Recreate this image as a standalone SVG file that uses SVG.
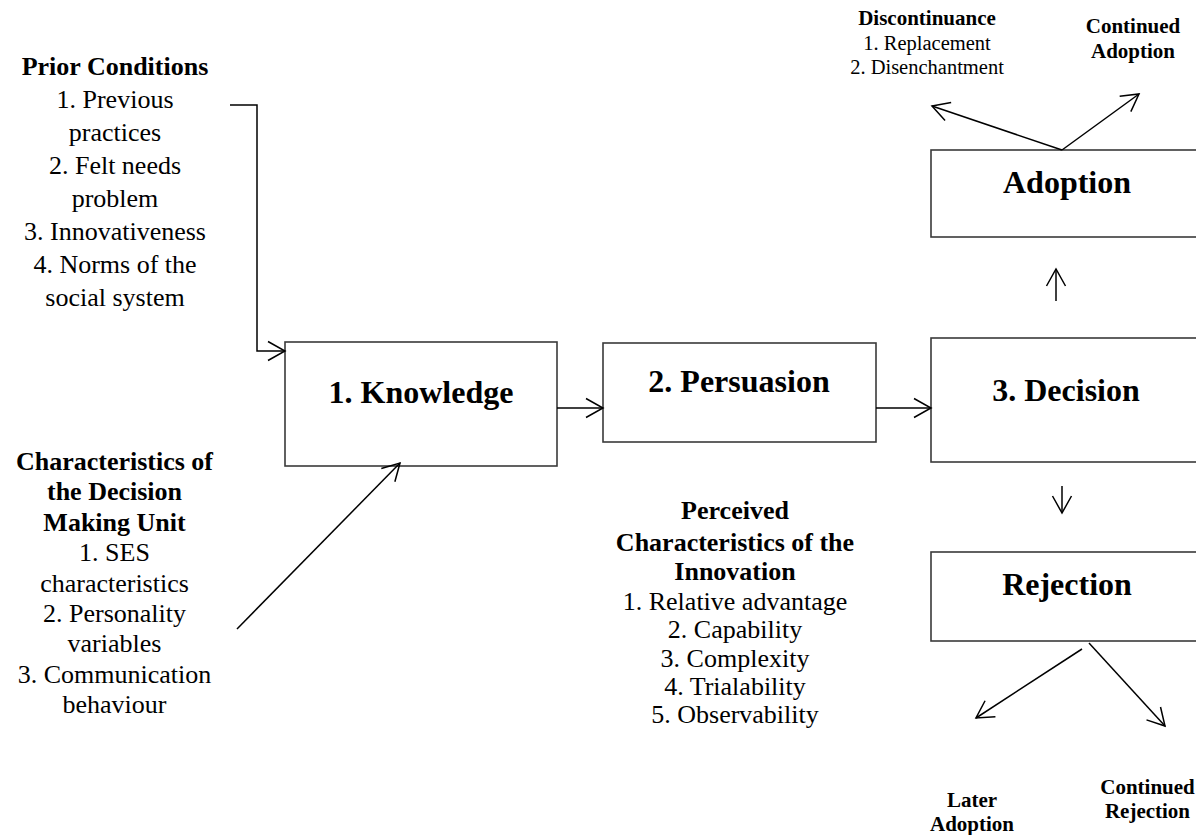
<svg xmlns="http://www.w3.org/2000/svg" width="1196" height="835" viewBox="0 0 1196 835">
<style>
.box{fill:#fff;stroke:#3a3a3a;stroke-width:1.6}
.lbl{font-family:"Liberation Serif","Times New Roman",serif;font-weight:bold;font-size:32px;text-anchor:middle;fill:#000}
.t{font-family:"Liberation Serif","Times New Roman",serif;font-size:26px;text-anchor:middle;fill:#000}
.b{font-weight:bold}
.s{font-family:"Liberation Serif","Times New Roman",serif;font-size:20.5px;text-anchor:middle;fill:#000}
.sb{font-family:"Liberation Serif","Times New Roman",serif;font-size:21px;font-weight:bold;text-anchor:middle;fill:#000}
.c{fill:none;stroke:#000;stroke-width:1.5;marker-end:url(#ah)}
</style>
<defs>
<marker id="ah" markerUnits="userSpaceOnUse" markerWidth="22" markerHeight="22" viewBox="0 0 22 22" refX="18" refY="11" orient="auto">
<path d="M1,1.5 L18,11 L1,20.5" fill="none" stroke="#000" stroke-width="1.5"/>
</marker>
</defs>
<rect width="1196" height="835" fill="#fff"/>

<g id="knowledge">
<rect class="box" x="285" y="342" width="272" height="124"/>
<text class="lbl" x="421" y="403">1. Knowledge</text>
</g>
<g id="persuasion">
<rect class="box" x="603" y="343" width="273" height="99"/>
<text class="lbl" x="739" y="392">2. Persuasion</text>
</g>
<g id="decision">
<rect class="box" x="931" y="338" width="280" height="124"/>
<text class="lbl" x="1066" y="401">3. Decision</text>
</g>
<g id="adoption">
<rect class="box" x="931" y="150" width="280" height="87"/>
<text class="lbl" x="1067" y="193">Adoption</text>
</g>
<g id="rejection">
<rect class="box" x="931" y="552" width="280" height="89"/>
<text class="lbl" x="1067" y="595">Rejection</text>
</g>

<g id="prior-conditions">
<text class="t b" x="115" y="75">Prior Conditions</text>
<text class="t" x="115" y="108">1. Previous</text>
<text class="t" x="115" y="141">practices</text>
<text class="t" x="115" y="174">2. Felt needs</text>
<text class="t" x="115" y="207">problem</text>
<text class="t" x="115" y="240">3. Innovativeness</text>
<text class="t" x="115" y="273">4. Norms of the</text>
<text class="t" x="115" y="306">social system</text>
</g>

<g id="decision-unit">
<text class="t b" x="114.5" y="470">Characteristics of</text>
<text class="t b" x="114.5" y="500">the Decision</text>
<text class="t b" x="114.5" y="531">Making Unit</text>
<text class="t" x="114.5" y="561">1. SES</text>
<text class="t" x="114.5" y="592">characteristics</text>
<text class="t" x="114.5" y="622">2. Personality</text>
<text class="t" x="114.5" y="652">variables</text>
<text class="t" x="114.5" y="683">3. Communication</text>
<text class="t" x="114.5" y="713">behaviour</text>
</g>

<g id="perceived">
<text class="t b" x="735" y="519">Perceived</text>
<text class="t b" x="735" y="551">Characteristics of the</text>
<text class="t b" x="735" y="580">Innovation</text>
<text class="t" x="735" y="610">1. Relative advantage</text>
<text class="t" x="735" y="638">2. Capability</text>
<text class="t" x="735" y="667">3. Complexity</text>
<text class="t" x="735" y="695">4. Trialability</text>
<text class="t" x="735" y="723">5. Observability</text>
</g>

<g id="discontinuance">
<text class="sb" x="927" y="25">Discontinuance</text>
<text class="s" x="927" y="50">1. Replacement</text>
<text class="s" x="927" y="74">2. Disenchantment</text>
</g>
<g id="continued-adoption">
<text class="sb" x="1133" y="33">Continued</text>
<text class="sb" x="1133" y="58">Adoption</text>
</g>
<g id="later-adoption">
<text class="sb" x="972" y="807">Later</text>
<text class="sb" x="972" y="831">Adoption</text>
</g>
<g id="continued-rejection">
<text class="sb" x="1147.5" y="794">Continued</text>
<text class="sb" x="1147.5" y="818">Rejection</text>
</g>

<g id="connectors">
<polyline class="c" points="230,105 257,105 257,351 285,351"/>
<line class="c" x1="237" y1="629" x2="400" y2="463"/>
<line class="c" x1="557" y1="408" x2="603" y2="408"/>
<line class="c" x1="876" y1="408" x2="931" y2="408"/>
<line class="c" x1="1056" y1="301" x2="1056" y2="269"/>
<line class="c" x1="1062" y1="486" x2="1062" y2="513"/>
<line class="c" x1="1062" y1="150" x2="932" y2="106"/>
<line class="c" x1="1062" y1="150" x2="1139" y2="94"/>
<line class="c" x1="1082" y1="649" x2="976" y2="718"/>
<line class="c" x1="1089" y1="643" x2="1165" y2="726"/>
</g>
</svg>
